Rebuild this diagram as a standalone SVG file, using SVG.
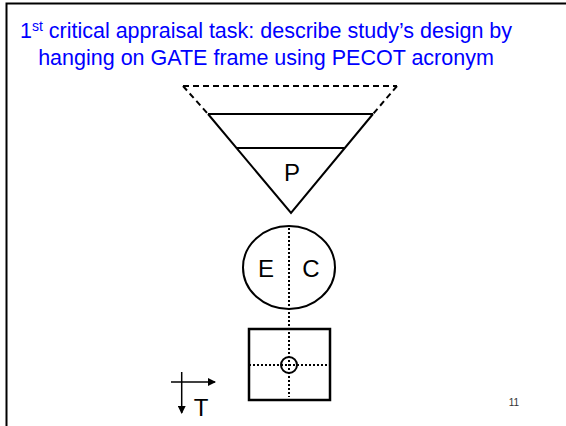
<svg xmlns="http://www.w3.org/2000/svg" width="566" height="426" viewBox="0 0 566 426">
<style>
.title{font-family:"Liberation Sans",Arial,sans-serif;font-size:21.5px;fill:#0000FF;text-anchor:middle}
.lbl{font-family:"Liberation Sans",Arial,sans-serif;font-size:24px;fill:#000;text-anchor:middle}
.solid{fill:none;stroke:#000;stroke-width:2}
.dash{fill:none;stroke:#000;stroke-width:2;stroke-dasharray:6,4}
.dot{fill:none;stroke:#000;stroke-width:2;stroke-dasharray:2,2}
</style>
<defs>
<marker id="ah" markerWidth="8" markerHeight="8" refX="7" refY="4" orient="auto" markerUnits="userSpaceOnUse">
<path d="M0,0 L8,4 L0,8 Z" fill="#000"/>
</marker>
</defs>
<rect x="0" y="0" width="566" height="426" fill="#fff"/>
<path d="M6.5,426 V3.5 H570" fill="none" stroke="#000" stroke-width="2"/>
<text class="title" x="266" y="38">1<tspan font-size="14" dy="-7.5">st</tspan><tspan dy="7.5"> critical appraisal task: describe study’s design by</tspan></text>
<text class="title" x="266" y="65">hanging on GATE frame using PECOT acronym</text>
<g id="population">
<path class="dash" d="M183,86 H397"/>
<path class="dash" d="M183,86 L208,114"/>
<path class="dash" d="M397,86 L373,114"/>
<path class="solid" d="M208,114 L291,213 L373,114"/>
<path class="solid" d="M208,114 H373"/>
<path class="solid" d="M237,148 H344"/>
<text class="lbl" x="292" y="181">P</text>
</g>
<g id="connectors">
<path class="dot" d="M289,228 V397"/>
<path class="dot" d="M249,365 H330"/>
</g>
<g id="exposure-comparison">
<ellipse class="solid" cx="289" cy="267.5" rx="46" ry="41.5"/>
<text class="lbl" x="266" y="277">E</text>
<text class="lbl" x="311" y="277">C</text>
</g>
<g id="outcomes">
<rect x="249" y="329" width="81" height="71" fill="none" stroke="#000" stroke-width="2.5"/>
<circle class="solid" cx="289" cy="365" r="8"/>
</g>
<g id="time">
<path d="M181.7,372 V413" stroke="#000" stroke-width="1.5" marker-end="url(#ah)"/>
<path d="M171,382 H215" stroke="#000" stroke-width="1.5" marker-end="url(#ah)"/>
<text class="lbl" x="201" y="416">T</text>
</g>
<text x="514" y="406" font-family="Liberation Sans,Arial,sans-serif" font-size="10" fill="#333" text-anchor="middle">11</text>
</svg>
